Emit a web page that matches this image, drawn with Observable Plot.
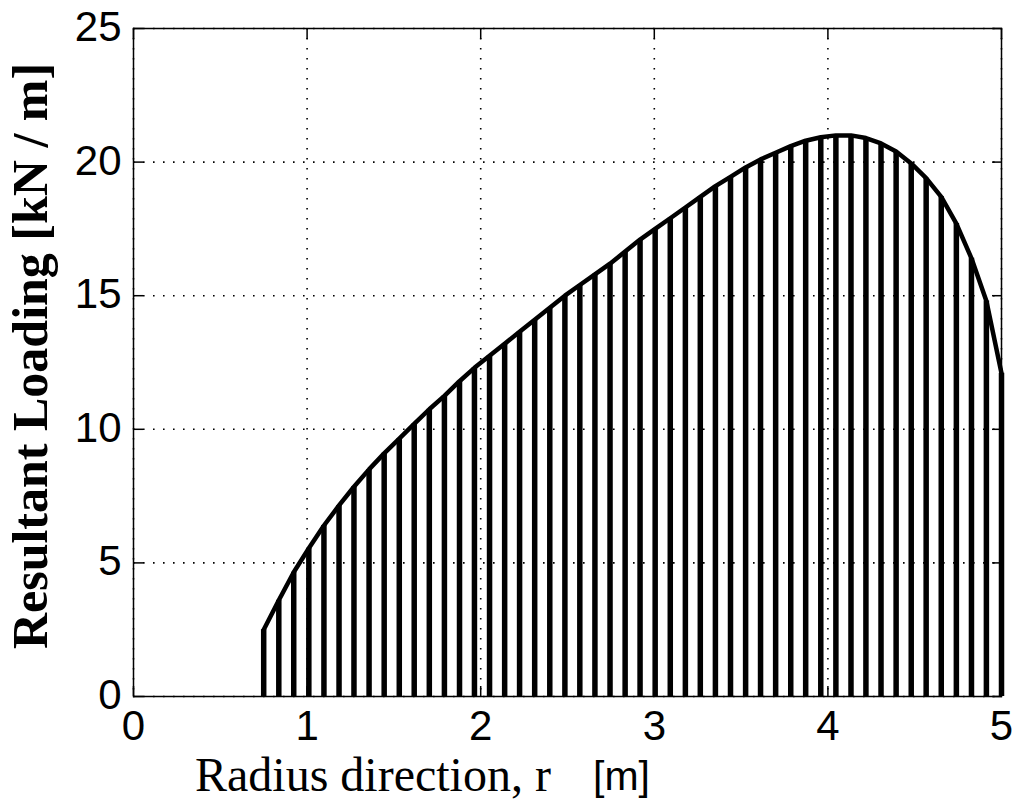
<!DOCTYPE html>
<html><head><meta charset="utf-8">
<script src="https://cdn.jsdelivr.net/npm/d3@7"></script>
<script src="https://cdn.jsdelivr.net/npm/@observablehq/plot@0.6"></script>
<style>body{margin:0;background:#fff} #chart{width:1012px;height:800px}</style>
</head><body><div id="chart"></div>
<script>
const radius = [0.750, 0.837, 0.923, 1.010, 1.097, 1.184, 1.270, 1.357, 1.444, 1.531,
  1.617, 1.704, 1.791, 1.878, 1.964, 2.051, 2.138, 2.224, 2.311, 2.398,
  2.485, 2.571, 2.658, 2.745, 2.832, 2.918, 3.005, 3.092, 3.179, 3.265,
  3.352, 3.439, 3.526, 3.612, 3.699, 3.786, 3.872, 3.959, 4.046, 4.133,
  4.219, 4.306, 4.393, 4.480, 4.566, 4.653, 4.740, 4.827, 4.913, 5.000];
const loading = [2.5, 3.6, 4.65, 5.55, 6.4, 7.15, 7.85, 8.5, 9.1, 9.65,
  10.2, 10.75, 11.25, 11.8, 12.3, 12.75, 13.2, 13.65, 14.1, 14.55,
  15.0, 15.4, 15.8, 16.2, 16.65, 17.1, 17.5, 17.9, 18.3, 18.7,
  19.1, 19.45, 19.8, 20.1, 20.35, 20.6, 20.8, 20.93, 21.0, 21.0,
  20.9, 20.7, 20.4, 19.95, 19.4, 18.7, 17.7, 16.4, 14.8, 12.1];
const xTicks = [0, 1, 2, 3, 4, 5];
const yTicks = [0, 5, 10, 15, 20, 25];
const xLabel = "Radius direction, r";
const xUnit = "[m]";
const yLabel = "Resultant Loading [kN / m]";

const data = radius.map((r, i) => ({r, v: loading[i]}));
const sans = "'Liberation Sans', Arial, sans-serif";
const serif = "'Liberation Serif', 'Times New Roman', serif";
const gridStyle = {stroke: "black", strokeOpacity: 1, strokeWidth: 1.6, strokeDasharray: "1.6,8.4"};

const svg = Plot.plot({
  width: 1012, height: 800,
  marginLeft: 133, marginRight: 11, marginTop: 28, marginBottom: 104,
  x: {domain: [0, 5]},
  y: {domain: [0, 25]},
  style: {background: "white", color: "black", overflow: "visible"},
  marks: [
    Plot.gridX(xTicks, gridStyle),
    Plot.gridY(yTicks, gridStyle),
    Plot.ruleX(data, {x: "r", y1: 0, y2: "v", stroke: "black", strokeWidth: 5.5}),
    Plot.line(data, {x: "r", y: "v", stroke: "black", strokeWidth: 4.5, strokeLinejoin: "round", strokeLinecap: "round"}),
    Plot.frame({stroke: "black", strokeWidth: 1.5}),
    Plot.axisX(xTicks, {anchor: "bottom", tickSize: 0, tickPadding: 14, fontSize: 42, fontFamily: sans, label: null, tickFormat: "d"}),
    Plot.axisX(xTicks, {anchor: "bottom", tickSize: -10, text: null, label: null, strokeWidth: 1.5}),
    Plot.axisX(xTicks, {anchor: "top", tickSize: -10, text: null, label: null, strokeWidth: 1.5}),
    Plot.axisY(yTicks, {anchor: "left", tickSize: 0, tickPadding: 12, fontSize: 42, fontFamily: sans, label: null, dy: -1, tickFormat: "d"}),
    Plot.axisY(yTicks, {anchor: "left", tickSize: -10, text: null, label: null, strokeWidth: 1.5}),
    Plot.axisY(yTicks, {anchor: "right", tickSize: -10, text: null, label: null, strokeWidth: 1.5})
  ]
});

const s = d3.select(svg);
s.append("text").attr("x", 195).attr("y", 791).attr("text-anchor", "start")
  .attr("font-family", serif).attr("font-size", 48).attr("fill", "black").text(xLabel);
s.append("text").attr("x", 593).attr("y", 790).attr("text-anchor", "start")
  .attr("font-family", sans).attr("font-size", 41).attr("fill", "black").text(xUnit);
s.append("text").attr("transform", "translate(47,356) rotate(-90)")
  .attr("text-anchor", "middle").attr("font-family", serif).attr("font-weight", "bold")
  .attr("font-size", 50).attr("fill", "black").text(yLabel);

document.getElementById("chart").appendChild(svg);
</script>
</body></html>
